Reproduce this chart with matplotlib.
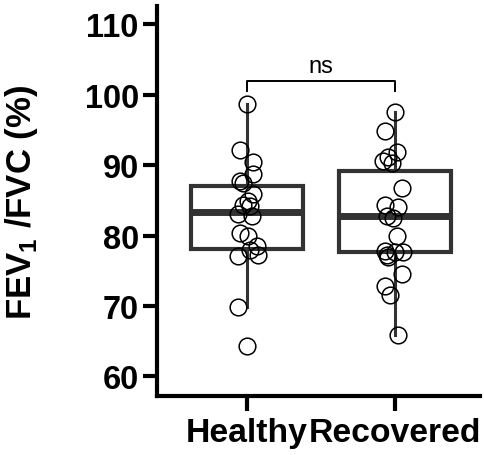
"""FEV1/FVC ratio by group: box plot with individual points."""

import matplotlib

matplotlib.use("Agg")
import matplotlib.pyplot as plt

groups = ["Healthy", "Recovered"]

healthy = [98.6, 92.2, 90.4, 88.7, 87.7, 87.4, 85.9, 84.9, 84.4, 84.2,
           83.0, 82.8, 80.4, 79.9, 78.5, 78.0, 77.3, 77.1, 69.8, 64.3]
recovered = [97.5, 94.9, 91.8, 91.1, 90.6, 90.3, 86.8, 84.4, 84.0, 82.8,
             82.5, 79.9, 77.8, 77.6, 77.7, 77.3, 77.0, 74.5, 72.8, 71.6, 65.9]

# box summaries (q1, median, q3, whisker low, whisker high)
box_q1 = [78.1, 77.6]
box_med = [83.3, 82.8]
box_q3 = [87.0, 89.2]
box_whislo = [69.8, 65.9]
box_whishi = [98.6, 97.5]

# horizontal scatter of the points around each group centre
healthy_jitter = [0.0, -0.045, 0.045, 0.045, -0.045, -0.022, 0.045, 0.011, -0.022, 0.022,
                  -0.056, 0.034, -0.045, 0.011, 0.067, 0.022, 0.079, -0.056, -0.056, 0.0]
recovered_jitter = [0.0, -0.067, 0.011, -0.045, -0.079, -0.022, 0.045, -0.067, 0.022, -0.056,
                    -0.011, 0.011, -0.067, 0.0, 0.056, -0.056, -0.045, 0.045, -0.067, -0.034, 0.022]

sig_label = "ns"
sig_y = 101.9
sig_drop = 1.4

plt.rcParams["font.family"] = ["Liberation Sans", "DejaVu Sans"]

fig = plt.figure(figsize=(4.84, 4.56), dpi=100)
ax = fig.add_axes([0.324, 0.129, 0.668, 0.856])

gray = "#333333"
stats = [
    dict(q1=box_q1[i], med=box_med[i], q3=box_q3[i],
         whislo=box_whislo[i], whishi=box_whishi[i], fliers=[], label=groups[i])
    for i in range(len(groups))
]
ax.bxp(
    stats,
    positions=[1, 2],
    widths=0.755,
    showcaps=False,
    showfliers=False,
    patch_artist=True,
    boxprops=dict(facecolor="none", edgecolor=gray, linewidth=3.0),
    medianprops=dict(color=gray, linewidth=5.0, solid_capstyle="butt"),
    whiskerprops=dict(color=gray, linewidth=2.2),
    zorder=2,
)

for pos, values, jitter in [(1, healthy, healthy_jitter), (2, recovered, recovered_jitter)]:
    ax.plot(
        [pos + j for j in jitter],
        values,
        linestyle="none",
        marker="o",
        markersize=12,
        markerfacecolor="none",
        markeredgecolor="black",
        markeredgewidth=1.1,
        zorder=3,
    )

# significance bracket
ax.plot([1, 1, 2, 2], [sig_y - sig_drop, sig_y, sig_y, sig_y - sig_drop],
        color="black", linewidth=1.4, clip_on=False)
ax.text(1.5, sig_y + 0.6, sig_label, ha="center", va="bottom", fontsize=17)

ax.set_xlim(0.395, 2.573)
ax.set_ylim(57.2, 112.6)
ax.set_yticks([60, 70, 80, 90, 100, 110])
ax.set_xticks([1, 2])
ax.set_xticklabels(groups)

for side in ("top", "right"):
    ax.spines[side].set_visible(False)
for side in ("left", "bottom"):
    ax.spines[side].set_linewidth(3.0)

ax.tick_params(axis="y", length=10, width=3.0, pad=3, labelsize=23.5)
ax.tick_params(axis="x", length=11, width=3.0, pad=4, labelsize=24.3)
for lab in ax.get_yticklabels() + ax.get_xticklabels():
    lab.set_fontweight("bold")

ax.set_ylabel(r"FEV$_\mathregular{1}$ /FVC (%)", fontsize=25, fontweight="bold")
ax.yaxis.set_label_coords(-0.362, 0.5)

fig.savefig("out.png", dpi=100)
